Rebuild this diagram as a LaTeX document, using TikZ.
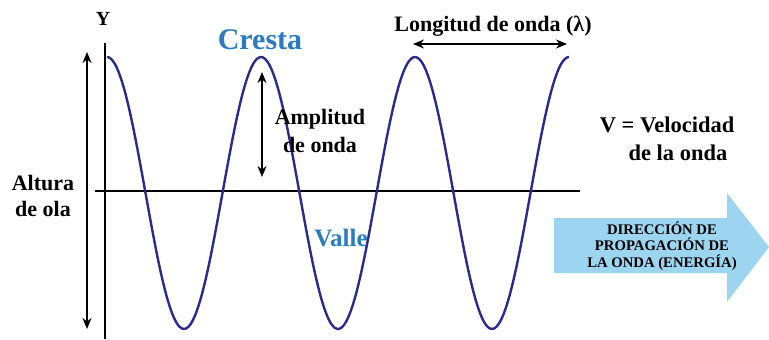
\documentclass[tikz,border=0pt]{standalone}
\usepackage{fontspec}
\setmainfont{Liberation Serif}
\usepackage{tikz}
\usetikzlibrary{arrows.meta}
\definecolor{wavenavy}{HTML}{2B2C8A}
\definecolor{labelblue}{HTML}{2A7BC0}
\definecolor{arrowblue}{HTML}{9DD4F0}

\begin{document}
\begin{tikzpicture}[x=1pt, y=-1pt, line width=2.2pt, >={Stealth[length=11pt, width=9pt]}, every node/.style={font=\bfseries, align=center, inner sep=0pt}]
      \useasboundingbox (0,0) rectangle (769,340);

      \coordinate (yt) at (105,43);
      \coordinate (yb) at (105,339);
      \coordinate (xl) at (95,191);
      \coordinate (xr) at (580,191);
      \coordinate (ht) at (87,52);
      \coordinate (hb) at (87,329);
      \coordinate (at) at (262,72);
      \coordinate (ab) at (262,177);
      \coordinate (ll) at (413,44);
      \coordinate (lr) at (567,44);

      \draw (yt) -- (yb);
      \draw (xl) -- (xr);
      \draw[<->] (ht) -- (hb);
      \draw[<->] (at) -- (ab);
      \draw[<->] (ll) -- (lr);

      \draw[wavenavy, line width=2.4pt, smooth] plot[domain=107:569, samples=200]
        (\x, {193-136*cos(2.33766*(\x-107))});

      \fill[arrowblue] (554,218) -- (727,218) -- (727,193) -- (769,247)
        -- (727,302) -- (727,273) -- (554,273) -- cycle;

      \node[font=\bfseries\fontsize{20}{22}\selectfont] (ylab) at (103,19) {Y};
      \node[font=\bfseries\fontsize{30}{32}\selectfont, text=labelblue] (cresta) at (260,40) {Cresta};
      \node[font=\bfseries\fontsize{22}{24}\selectfont] (lambda) at (493,26) {Longitud de onda (λ)};
      \node[font=\bfseries\fontsize{22}{28}\selectfont] (ampl) at (320,131) {Amplitud\\de onda};
      \node[font=\bfseries\fontsize{22}{26}\selectfont] (altura) at (43,196) {Altura\\de ola};
      \node[font=\bfseries\fontsize{25}{27}\selectfont, text=labelblue] (valle) at (341,238) {Valle};
      \node[font=\bfseries\fontsize{22.5}{28}\selectfont] (veloc) at (667,125) {V = Velocidad};
      \node[font=\bfseries\fontsize{22.5}{28}\selectfont] (delaonda) at (678,153) {de la onda};
      \node[font=\bfseries\fontsize{14.7}{16.5}\selectfont] (prop) at (662,246) {DIRECCIÓN DE\\PROPAGACIÓN DE\\LA ONDA (ENERGÍA)};
    \end{tikzpicture}
\end{document}
